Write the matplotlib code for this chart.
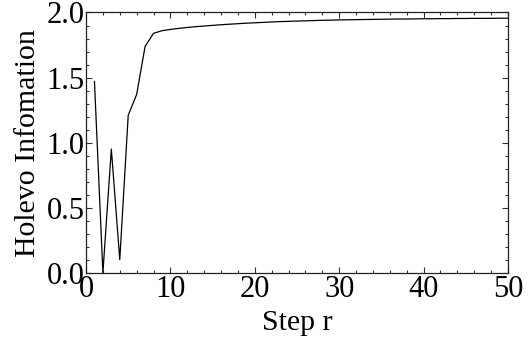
import matplotlib
matplotlib.use("Agg")
import matplotlib.pyplot as plt
from matplotlib.ticker import MultipleLocator

steps = list(range(1, 51))
holevo = [1.47, 0.00, 0.95, 0.10, 1.21, 1.37, 1.74, 1.84, 1.86, 1.87,
          1.878, 1.885, 1.891, 1.896, 1.901, 1.906, 1.910, 1.914, 1.918, 1.921,
          1.924, 1.927, 1.930, 1.932, 1.934, 1.936, 1.938, 1.940, 1.941, 1.943,
          1.944, 1.945, 1.946, 1.947, 1.948, 1.949, 1.950, 1.950, 1.951, 1.952,
          1.952, 1.953, 1.953, 1.954, 1.954, 1.955, 1.955, 1.955, 1.956, 1.956]
x_label = "Step r"
y_label = "Holevo Infomation"

plt.rcParams['font.family'] = ['Liberation Serif', 'DejaVu Serif']

fig = plt.figure(figsize=(5.29, 3.49), dpi=100)
ax = fig.add_axes([0.1626, 0.2186, 0.7977, 0.7456])
ax.plot(steps, holevo, color='black', lw=0.9, clip_on=False)
ax.set_xlim(0, 50)
ax.set_ylim(0, 2.0)
ax.xaxis.set_major_locator(MultipleLocator(10))
ax.xaxis.set_minor_locator(MultipleLocator(2))
ax.yaxis.set_major_locator(MultipleLocator(0.5))
ax.yaxis.set_minor_locator(MultipleLocator(0.1))
ax.yaxis.set_major_formatter(matplotlib.ticker.FormatStrFormatter('%.1f'))
ax.tick_params(which='both', direction='in', top=True, right=True, color='#333333', width=0.8)
ax.tick_params(which='major', length=4, labelsize=22, pad=2)
ax.tick_params(which='minor', length=2)
ax.tick_params(axis='y', pad=1)
for s in ax.spines.values():
    s.set_color('#222222')
    s.set_linewidth(0.9)
ax.set_xlabel(x_label, fontsize=21.5, labelpad=4)
ax.set_ylabel(y_label, fontsize=21.5, labelpad=4)
fig.savefig("out.png", dpi=100)
